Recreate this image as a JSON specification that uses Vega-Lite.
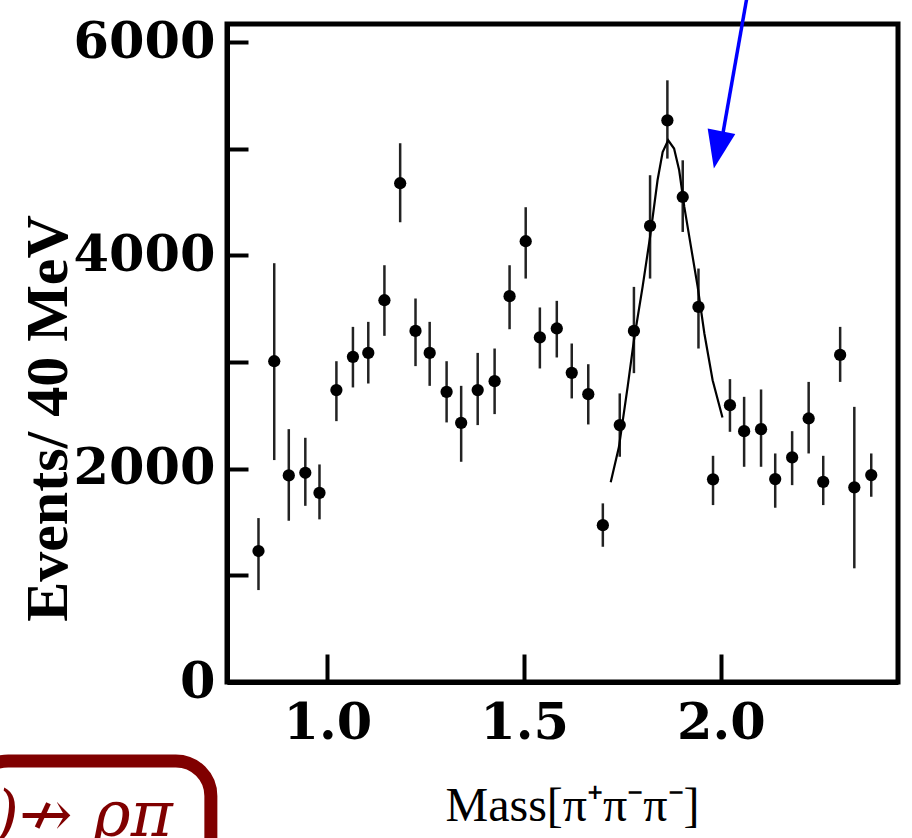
{
  "$schema": "https://vega.github.io/schema/vega-lite/v6.json",
  "width": 671,
  "height": 658,
  "autosize": "none",
  "padding": {"left": 227, "top": 24, "right": 14, "bottom": 156},
  "background": "white",
  "config": {
    "view": {"stroke": "black", "strokeWidth": 5},
    "axis": {"grid": false, "domainColor": "black", "domainWidth": 5, "tickColor": "black", "tickWidth": 4,
      "labelColor": "black", "titleColor": "black", "labelFont": "DejaVu Serif", "labelFontWeight": "bold", "labelFontSize": 51,
      "titleFont": "Liberation Serif"}
  },
  "datasets": {
    "pts": [
      {"mass": 0.825, "events": 1228, "lo": 862, "hi": 1537},
      {"mass": 0.865, "events": 3008, "lo": 2081, "hi": 3927},
      {"mass": 0.902, "events": 1937, "lo": 1512, "hi": 2371},
      {"mass": 0.944, "events": 1962, "lo": 1652, "hi": 2290},
      {"mass": 0.980, "events": 1774, "lo": 1525, "hi": 2040},
      {"mass": 1.023, "events": 2737, "lo": 2446, "hi": 3008},
      {"mass": 1.065, "events": 3049, "lo": 2762, "hi": 3330},
      {"mass": 1.104, "events": 3086, "lo": 2799, "hi": 3377},
      {"mass": 1.145, "events": 3580, "lo": 3246, "hi": 3908},
      {"mass": 1.185, "events": 4677, "lo": 4311, "hi": 5052},
      {"mass": 1.224, "events": 3292, "lo": 2962, "hi": 3596},
      {"mass": 1.260, "events": 3086, "lo": 2777, "hi": 3377},
      {"mass": 1.303, "events": 2721, "lo": 2434, "hi": 3008},
      {"mass": 1.340, "events": 2430, "lo": 2065, "hi": 2777},
      {"mass": 1.382, "events": 2737, "lo": 2409, "hi": 3086},
      {"mass": 1.425, "events": 2821, "lo": 2512, "hi": 3127},
      {"mass": 1.463, "events": 3618, "lo": 3308, "hi": 3908},
      {"mass": 1.504, "events": 4133, "lo": 3783, "hi": 4452},
      {"mass": 1.540, "events": 3231, "lo": 2940, "hi": 3512},
      {"mass": 1.583, "events": 3315, "lo": 3043, "hi": 3574},
      {"mass": 1.621, "events": 2899, "lo": 2659, "hi": 3174},
      {"mass": 1.663, "events": 2699, "lo": 2415, "hi": 2980},
      {"mass": 1.700, "events": 1471, "lo": 1268, "hi": 1675},
      {"mass": 1.743, "events": 2409, "lo": 2112, "hi": 2706},
      {"mass": 1.779, "events": 3292, "lo": 2896, "hi": 3705},
      {"mass": 1.820, "events": 4277, "lo": 3783, "hi": 4752},
      {"mass": 1.864, "events": 5267, "lo": 4908, "hi": 5642},
      {"mass": 1.903, "events": 4548, "lo": 4220, "hi": 4892},
      {"mass": 1.943, "events": 3517, "lo": 3127, "hi": 3877},
      {"mass": 1.980, "events": 1900, "lo": 1659, "hi": 2121},
      {"mass": 2.023, "events": 2596, "lo": 2346, "hi": 2840},
      {"mass": 2.059, "events": 2352, "lo": 2018, "hi": 2674},
      {"mass": 2.102, "events": 2371, "lo": 2018, "hi": 2743},
      {"mass": 2.138, "events": 1903, "lo": 1634, "hi": 2143},
      {"mass": 2.181, "events": 2106, "lo": 1846, "hi": 2352},
      {"mass": 2.223, "events": 2471, "lo": 2143, "hi": 2814},
      {"mass": 2.260, "events": 1877, "lo": 1659, "hi": 2121},
      {"mass": 2.303, "events": 3067, "lo": 2814, "hi": 3330},
      {"mass": 2.339, "events": 1825, "lo": 1066, "hi": 2580},
      {"mass": 2.382, "events": 1940, "lo": 1737, "hi": 2143}
    ],
    "fit": [
      {"mass": 1.720, "events": 1872},
      {"mass": 1.741, "events": 2205},
      {"mass": 1.763, "events": 2768},
      {"mass": 1.779, "events": 3205},
      {"mass": 1.801, "events": 3705},
      {"mass": 1.820, "events": 4173},
      {"mass": 1.839, "events": 4705},
      {"mass": 1.852, "events": 4970},
      {"mass": 1.866, "events": 5080},
      {"mass": 1.881, "events": 5002},
      {"mass": 1.894, "events": 4798},
      {"mass": 1.907, "events": 4455},
      {"mass": 1.924, "events": 4080},
      {"mass": 1.941, "events": 3705},
      {"mass": 1.958, "events": 3268},
      {"mass": 1.979, "events": 2830},
      {"mass": 2.004, "events": 2481}
    ]
  },
  "layer": [
    {
      "data": {"name": "pts"},
      "mark": {"type": "rule", "color": "#222222", "strokeWidth": 2.5},
      "encoding": {
        "x": {"field": "mass", "type": "quantitative", "scale": {"domain": [0.745, 2.45], "nice": false, "zero": false},
          "axis": {"values": [1.0, 1.5, 2.0], "format": ".1f", "tickSize": -28, "labelPadding": 44,
            "title": "Mass[π⁺π⁻π⁻]", "titleFontSize": 48, "titleFontWeight": "normal", "titlePadding": 34, "titleX": 345}},
        "y": {"field": "lo", "type": "quantitative", "scale": {"domain": [0, 6170], "nice": false},
          "axis": {"values": [0, 1000, 2000, 3000, 4000, 5000, 6000], "format": "d",
            "labelExpr": "datum.value % 2000 == 0 ? datum.label : ''", "tickSize": -21, "labelPadding": 33,
            "title": "Events/ 40 MeV", "titleFontSize": 60, "titleFontWeight": "bold", "titlePadding": -6, "titleY": 394}},
        "y2": {"field": "hi"}
      }
    },
    {
      "data": {"name": "pts"},
      "mark": {"type": "point", "filled": true, "color": "black", "size": 150, "opacity": 1},
      "encoding": {
        "x": {"field": "mass", "type": "quantitative"},
        "y": {"field": "events", "type": "quantitative"}
      }
    },
    {
      "data": {"name": "fit"},
      "mark": {"type": "line", "color": "black", "strokeWidth": 2.2},
      "encoding": {
        "x": {"field": "mass", "type": "quantitative"},
        "y": {"field": "events", "type": "quantitative"}
      }
    },
    {
      "data": {"values": [{}]},
      "mark": {"type": "rule", "color": "#0000ff", "strokeWidth": 3.5},
      "encoding": {
        "x": {"datum": 2.067}, "x2": {"datum": 2.003},
        "y": {"datum": 6439}, "y2": {"datum": 5100}
      }
    },
    {
      "data": {"values": [{}]},
      "mark": {"type": "point", "filled": true, "color": "#0000ff", "opacity": 1, "size": 1450, "angle": 11.5,
        "shape": "M -0.74 -1 L 0.74 -1 L 0 1 Z"},
      "encoding": {
        "x": {"datum": 1.9918}, "y": {"datum": 4990}
      }
    },
    {
      "data": {"values": [{}]},
      "mark": {"type": "rect", "fill": null, "fillOpacity": 0, "stroke": "#800000", "strokeWidth": 13, "cornerRadius": 35},
      "encoding": {
        "x": {"datum": 0.1}, "x2": {"datum": 0.704},
        "y": {"datum": -740}, "y2": {"datum": -2100}
      }
    },
    {
      "data": {"values": [{"t": "π₁(1600)↛ ρπ"}]},
      "mark": {"type": "text", "color": "#800000", "font": "DejaVu Serif", "fontStyle": "italic", "fontSize": 64, "align": "right", "baseline": "alphabetic"},
      "encoding": {
        "x": {"datum": 0.607}, "y": {"datum": -1440},
        "text": {"field": "t"}
      }
    }
  ]
}
